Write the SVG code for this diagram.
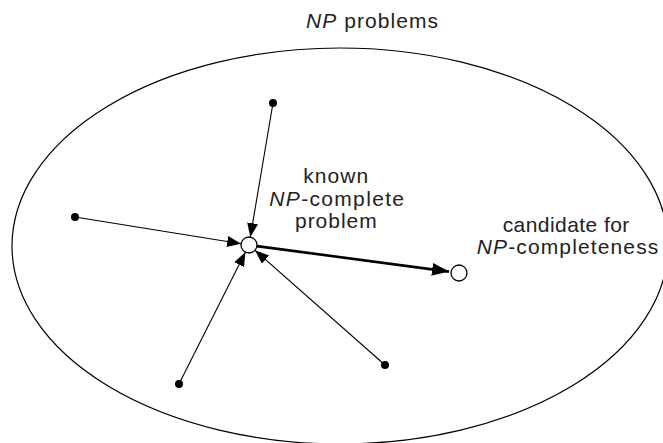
<svg xmlns="http://www.w3.org/2000/svg" width="663" height="443" viewBox="0 0 663 443">
<defs>
<style>
.t{font-family:"Liberation Sans",Arial,sans-serif;font-size:21px;fill:#222;}
.i{font-style:italic;}
.edge{stroke:#000;stroke-width:1.1;fill:none;}
.thick{stroke:#000;stroke-width:2.6;fill:none;}
.dot{fill:#000;}
.open{fill:#fff;stroke:#000;stroke-width:1.3;}
</style>
<marker id="ah" markerUnits="userSpaceOnUse" markerWidth="15" markerHeight="12" refX="14" refY="5.5" orient="auto">
<path d="M0,0 L14,5.5 L0,11 z" fill="#000"/>
</marker>
<marker id="ahb" markerUnits="userSpaceOnUse" markerWidth="18" markerHeight="14" refX="17" refY="6.5" orient="auto">
<path d="M0,0 L17,6.5 L0,13 z" fill="#000"/>
</marker>
</defs>
<rect width="663" height="443" fill="#fff"/>
<g id="np-set">
<ellipse cx="340" cy="246" rx="328" ry="198" fill="none" stroke="#000" stroke-width="1.2"/>
<text class="t" x="306" y="28" textLength="132" lengthAdjust="spacing"><tspan class="i">NP</tspan>  problems</text>
</g>
<g id="connectors">
<line class="edge" x1="273" y1="103" x2="250.3" y2="237.1" marker-end="url(#ah)"/>
<line class="edge" x1="75" y1="217" x2="241.1" y2="243.7" marker-end="url(#ah)"/>
<line class="edge" x1="179" y1="384" x2="245.4" y2="252.1" marker-end="url(#ah)"/>
<line class="edge" x1="385" y1="365" x2="255" y2="250.3" marker-end="url(#ah)"/>
<line class="thick" x1="256.9" y1="246.1" x2="449" y2="271.6" marker-end="url(#ahb)"/>
</g>
<g id="n-top"><circle class="dot" cx="273" cy="103" r="4"/></g>
<g id="n-left"><circle class="dot" cx="75" cy="217" r="4"/></g>
<g id="n-bottom-left"><circle class="dot" cx="179" cy="384" r="4"/></g>
<g id="n-bottom-right"><circle class="dot" cx="385" cy="365" r="4"/></g>
<g id="n-known">
<circle class="open" cx="249" cy="245" r="8"/>
<text class="t" x="303.3" y="183" textLength="65" lengthAdjust="spacing">known</text>
<text class="t" x="269.3" y="206" textLength="134.7" lengthAdjust="spacing"><tspan class="i">NP</tspan>-complete</text>
<text class="t" x="295" y="228" textLength="81.7" lengthAdjust="spacing">problem</text>
</g>
<g id="n-candidate">
<circle class="open" cx="459" cy="273" r="8"/>
<text class="t" x="502.7" y="232" textLength="126.6" lengthAdjust="spacing">candidate for</text>
<text class="t" x="476.7" y="254" textLength="181.6" lengthAdjust="spacing"><tspan class="i">NP</tspan>-completeness</text>
</g>
</svg>
